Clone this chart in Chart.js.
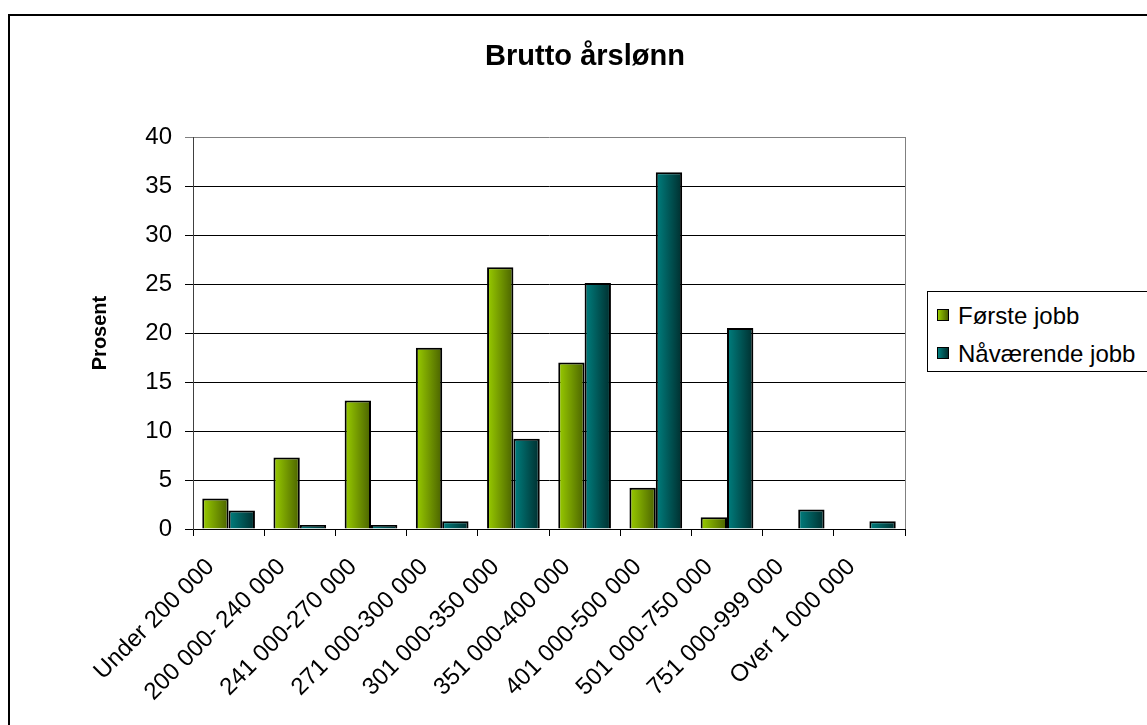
<!DOCTYPE html>
<html>
<head>
<meta charset="utf-8">
<script src="https://cdn.jsdelivr.net/npm/chart.js@4/dist/chart.umd.min.js"></script>
<style>
  body { margin: 0; background: #fff; overflow: hidden; }
  #wrap { position: relative; width: 1147px; height: 725px; overflow: hidden; font-family: "Liberation Sans", Arial, sans-serif; }
  #frame { position: absolute; left: 8px; top: 14px; width: 1200px; height: 800px; border: 2px solid #000; }
  #title { position: absolute; left: 385px; top: 41px; width: 400px; text-align: center; font-weight: bold; font-size: 29px; line-height: 29px; }
  #legend { position: absolute; left: 927px; top: 291px; width: 300px; height: 79px; border: 1px solid #000; background: #fff; }
  .item { position: absolute; left: 9px; font-size: 24px; line-height: 24px; white-space: nowrap; }
  .item span.box { position: absolute; left: 0; top: 5px; width: 10px; height: 10px; border: 1px solid #000; }
  .item span.txt { position: absolute; left: 21px; top: 0; }
  canvas { position: absolute; left: 0; top: 0; }
</style>
</head>
<body>
<div id="wrap">
  <div id="frame"></div>
  <canvas id="chart" width="1147" height="725"></canvas>
  <div id="title">Brutto årslønn</div>
  <div id="legend"></div>
</div>
<script>
const categories = ['Under 200 000', '200 000- 240 000', '241 000-270 000', '271 000-300 000', '301 000-350 000',
    '351 000-400 000', '401 000-500 000', '501 000-750 000', '751 000-999 000', 'Over 1 000 000'];
const forsteJobb = [3.1, 7.3, 13.1, 18.5, 26.7, 17.0, 4.2, 1.2, 0, 0];
const navarendeJobb = [1.9, 0.4, 0.4, 0.8, 9.2, 25.1, 36.4, 20.5, 2.0, 0.8];
const yTicks = [0, 5, 10, 15, 20, 25, 30, 35, 40];

const catPct = 0.74;

// horizontal shading of each bar, light on the left, dark on the right
function barShade(light, dark, side) {
    return function(ctx) {
        const chart = ctx.chart;
        const xs = chart.scales.x;
        if (ctx.type !== 'data' || !xs || xs.width == null) return light;
        const catW = xs.width / categories.length;
        const barW = catW * catPct / 2;
        const mid = xs.getPixelForValue(ctx.dataIndex);
        const left = side === 0 ? mid - barW : mid;
        const g = chart.ctx.createLinearGradient(left, 0, left + barW, 0);
        g.addColorStop(0, light);
        g.addColorStop(1, dark);
        return g;
    };
}

const datasets = [
    { label: 'Første jobb', data: forsteJobb, light: '#9acd00', dark: '#4a6200' },
    { label: 'Nåværende jobb', data: navarendeJobb, light: '#008080', dark: '#002e2e' }
];

const font = '"Liberation Sans", Arial, sans-serif';

const plotBorder = {
    id: 'plotBorder',
    afterDatasetsDraw(chart) {
        const a = chart.chartArea;
        const c = chart.ctx;
        c.save();
        c.strokeStyle = '#808080';
        c.lineWidth = 1;
        c.beginPath();
        c.moveTo(Math.round(a.right) + 0.5, a.top);
        c.lineTo(Math.round(a.right) + 0.5, a.bottom);
        c.stroke();
        c.restore();
    }
};

const ctx = document.getElementById('chart').getContext('2d');
const chart = new Chart(ctx, {
    type: 'bar',
    data: {
        labels: categories,
        datasets: datasets.map((d, i) => ({
            label: d.label,
            data: d.data,
            backgroundColor: barShade(d.light, d.dark, i),
            borderColor: '#000',
            borderWidth: 2,
            borderSkipped: 'bottom',
            categoryPercentage: catPct,
            barPercentage: 1
        }))
    },
    options: {
        responsive: false,
        animation: false,
        layout: { padding: { left: 80, right: 242, top: 137, bottom: 0 } },
        plugins: {
            legend: { display: false },
            title: { display: false },
            tooltip: { enabled: false }
        },
        scales: {
            x: {
                offset: true,
                grid: { offset: true, drawOnChartArea: false, drawTicks: true, tickLength: 7, color: '#000' },
                border: { color: '#000', width: 1 },
                ticks: {
                    color: '#000',
                    font: { family: font, size: 24 },
                    minRotation: 45,
                    maxRotation: 45,
                    padding: 17,
                    labelOffset: -18,
                    autoSkip: false
                },
                afterFit: scale => { scale.height = 725 - 529; }
            },
            y: {
                min: 0,
                max: 40,
                afterBuildTicks: scale => { scale.ticks = yTicks.map(v => ({ value: v })); },
                grid: {
                    color: c => c.tick && c.tick.value === 40 ? '#808080' : '#000',
                    tickLength: 8,
                    lineWidth: 1
                },
                border: { color: '#404040', width: 1 },
                ticks: { color: '#000', font: { family: font, size: 24 }, padding: 13 },
                title: {
                    display: true,
                    text: 'Prosent',
                    color: '#000',
                    font: { family: font, size: 20, weight: 'bold' },
                    padding: { top: 8, bottom: 0 }
                },
                afterFit: scale => { scale.width = 193 - 80; }
            }
        }
    },
    plugins: [plotBorder]
});

// legend built from the datasets
const legendBox = document.getElementById('legend');
datasets.forEach((d, i) => {
    const item = document.createElement('div');
    item.className = 'item';
    item.style.top = (12 + i * 38) + 'px';
    const box = document.createElement('span');
    box.className = 'box';
    box.style.background = 'linear-gradient(to right, ' + d.light + ', ' + d.dark + ')';
    const txt = document.createElement('span');
    txt.className = 'txt';
    txt.textContent = d.label;
    item.appendChild(box);
    item.appendChild(txt);
    legendBox.appendChild(item);
});
</script>
</body>
</html>
